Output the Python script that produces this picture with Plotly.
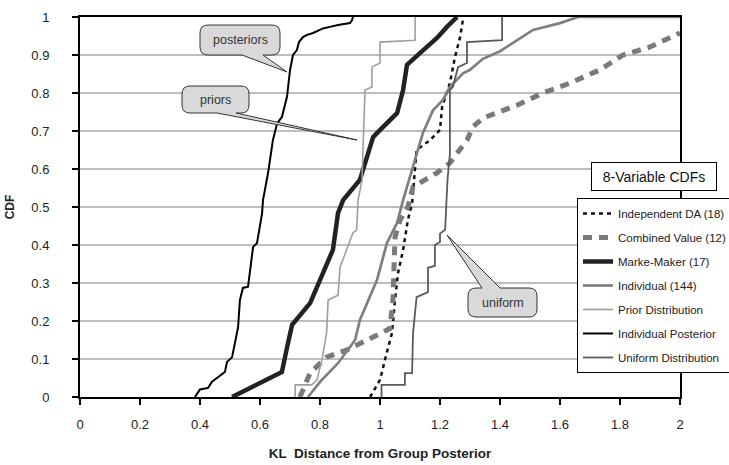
import plotly.graph_objects as go

# ---------------- data ----------------
post_x = [0.383, 0.40, 0.427, 0.44, 0.483, 0.49, 0.507, 0.517, 0.527, 0.533, 0.543, 0.56, 0.573, 0.577,
          0.59, 0.60, 0.607, 0.61, 0.627, 0.643, 0.657, 0.673, 0.69, 0.70, 0.71, 0.723, 0.73, 0.743,
          0.757, 0.777, 0.81, 0.833, 0.86, 0.90, 0.907, 0.91]
post_y = [0, 0.02, 0.024, 0.04, 0.066, 0.092, 0.105, 0.15, 0.184, 0.255, 0.287, 0.29, 0.36, 0.395,
          0.405, 0.457, 0.484, 0.518, 0.59, 0.676, 0.72, 0.737, 0.79, 0.86, 0.9, 0.913, 0.934, 0.947,
          0.953, 0.958, 0.97, 0.974, 0.979, 0.984, 0.992, 1.0]

prior_x = [0.717, 0.717, 0.772, 0.79, 0.806, 0.822, 0.827, 0.86, 0.867, 0.893, 0.91, 0.922, 0.927,
           0.94, 0.943, 0.95, 0.973, 0.973, 1.0, 1.0, 1.117, 1.117]
prior_y = [0, 0.032, 0.032, 0.045, 0.097, 0.168, 0.255, 0.268, 0.342, 0.395, 0.432, 0.44, 0.518,
           0.571, 0.632, 0.808, 0.816, 0.868, 0.879, 0.934, 0.939, 1.0]

mm_x = [0.507, 0.673, 0.69, 0.707, 0.767, 0.80, 0.833, 0.843, 0.86, 0.877, 0.933, 0.977, 0.993,
        1.057, 1.077, 1.09, 1.133, 1.19, 1.223, 1.257]
mm_y = [0, 0.066, 0.13, 0.19, 0.247, 0.308, 0.365, 0.387, 0.484, 0.518, 0.571, 0.684, 0.697,
        0.747, 0.808, 0.874, 0.905, 0.945, 0.974, 1.0]

ind_x = [0.76, 0.80, 0.86, 0.917, 0.933, 0.957, 0.99, 1.023, 1.057, 1.077, 1.123, 1.143, 1.177,
         1.21, 1.233, 1.277, 1.30, 1.343, 1.40, 1.457, 1.51, 1.60, 1.633, 1.66, 2.0]
ind_y = [0, 0.04, 0.089, 0.15, 0.203, 0.247, 0.308, 0.405, 0.458, 0.518, 0.642, 0.695, 0.755,
         0.782, 0.816, 0.852, 0.861, 0.89, 0.91, 0.939, 0.966, 0.984, 0.992, 1.0, 1.0]

ida_x = [0.967, 1.0, 1.022, 1.04, 1.05, 1.06, 1.077, 1.093, 1.107, 1.11, 1.122, 1.167, 1.2, 1.207,
         1.233, 1.25, 1.267, 1.278]
ida_y = [0, 0.045, 0.115, 0.168, 0.255, 0.326, 0.387, 0.466, 0.51, 0.537, 0.65, 0.676, 0.703,
         0.763, 0.826, 0.895, 0.947, 1.0]

cv_x = [0.733, 0.767, 0.822, 0.89, 0.957, 1.033, 1.043, 1.05, 1.067, 1.093, 1.11, 1.19, 1.233,
        1.29, 1.31, 1.343, 1.457, 1.543, 1.633, 1.733, 1.81, 1.9, 2.0]
cv_y = [0, 0.063, 0.105, 0.124, 0.15, 0.18, 0.255, 0.42, 0.466, 0.5, 0.553, 0.59, 0.616,
        0.676, 0.711, 0.734, 0.768, 0.8, 0.826, 0.861, 0.9, 0.921, 0.958]

uni_x = [1.005, 1.005, 1.083, 1.083, 1.107, 1.11, 1.122, 1.16, 1.16, 1.183, 1.183, 1.2, 1.2, 1.217,
         1.225, 1.233, 1.233, 1.243, 1.26, 1.29, 1.29, 1.407, 1.407]
uni_y = [0, 0.032, 0.032, 0.063, 0.063, 0.168, 0.263, 0.276, 0.34, 0.345, 0.40, 0.408, 0.43, 0.44,
         0.571, 0.64, 0.808, 0.816, 0.868, 0.879, 0.934, 0.939, 1.0]

x_ticks = [0, 0.2, 0.4, 0.6, 0.8, 1, 1.2, 1.4, 1.6, 1.8, 2]
x_tick_text = ["0", "0.2", "0.4", "0.6", "0.8", "1", "1.2", "1.4", "1.6", "1.8", "2"]
y_ticks = [0, 0.1, 0.2, 0.3, 0.4, 0.5, 0.6, 0.7, 0.8, 0.9, 1]
y_tick_text = ["0", "0.1", "0.2", "0.3", "0.4", "0.5", "0.6", "0.7", "0.8", "0.9", "1"]

FONT = "Liberation Sans, Arial, Helvetica, sans-serif"

series = [
    ("Independent DA (18)", ida_x, ida_y, dict(color="#111111", width=2.5, dash="4px,4px")),
    ("Combined Value (12)", cv_x, cv_y, dict(color="#7a7a7a", width=5, dash="9px,7px")),
    ("Marke-Maker (17)", mm_x, mm_y, dict(color="#222222", width=4.5)),
    ("Individual (144)", ind_x, ind_y, dict(color="#7f7f7f", width=2.7)),
    ("Prior Distribution", prior_x, prior_y, dict(color="#9e9e9e", width=1.6)),
    ("Individual Posterior", post_x, post_y, dict(color="#000000", width=2)),
    ("Uniform Distribution", uni_x, uni_y, dict(color="#5a5a5a", width=1.8)),
]

fig = go.Figure()
for i, (name, xs, ys, ln) in enumerate(series):
    fig.add_trace(go.Scatter(x=xs, y=ys, mode="lines", name=name, line=ln,
                             legendgroup="g%d" % i))

# ---------------- geometry helpers for callouts ----------------
L, R, T, B = 80, 680, 17, 397


def dx(px):
    return (px - L) / (R - L) * 2.0


def dy(py):
    return (B - py) / (B - T)


def bubble(x0, y0, x1, y1, r, tail, side):
    """rounded box in pixel coords with a tail (b1, b2, tipx, tipy) on 'bottom' or 'top'."""
    b1, b2, tx, ty = tail
    pts = []

    def P(cmd, *xy):
        s = cmd
        for j in range(0, len(xy), 2):
            s += " %.5f,%.5f" % (dx(xy[j]), dy(xy[j + 1]))
        pts.append(s)

    P("M", x0 + r, y0)
    if side == "top":
        P("L", b1, y0)
        P("L", tx, ty)
        P("L", b2, y0)
    P("L", x1 - r, y0)
    P("Q", x1, y0, x1, y0 + r)
    P("L", x1, y1 - r)
    P("Q", x1, y1, x1 - r, y1)
    if side == "bottom":
        P("L", b2, y1)
        P("L", tx, ty)
        P("L", b1, y1)
    P("L", x0 + r, y1)
    P("Q", x0, y1, x0, y1 - r)
    P("L", x0, y0 + r)
    P("Q", x0, y0, x0 + r, y0)
    return " ".join(pts) + " Z"


callouts = [
    ("posteriors", (200, 25, 280, 55), (242, 263, 287, 72), "bottom"),
    ("priors", (182, 86, 249, 113), (217, 236, 357, 140), "bottom"),
    ("uniform", (468, 288, 537, 317), (482, 500, 447, 235), "top"),
]

shapes = []
annotations = []
for text, (x0, y0, x1, y1), tail, side in callouts:
    shapes.append(dict(type="path", xref="x", yref="y",
                       path=bubble(x0, y0, x1, y1, 8, tail, side),
                       fillcolor="#d9d9d9", line=dict(color="#333333", width=1), layer="above"))
    annotations.append(dict(x=dx((x0 + x1) / 2), y=dy((y0 + y1) / 2), xref="x", yref="y",
                            text=text, showarrow=False,
                            font=dict(family=FONT, size=12.5, color="#333333")))

annotations.append(dict(x=(654 - L) / (R - L), y=(B - 176.5) / (B - T), xref="paper", yref="paper",
                        text="8-Variable CDFs", showarrow=False, xanchor="center", yanchor="middle",
                        width=118, height=21, borderpad=3, bordercolor="#000000", borderwidth=1,
                        bgcolor="#ffffff", font=dict(family=FONT, size=14, color="#111111")))

fig.update_layout(
    width=729, height=465,
    margin=dict(l=L, r=729 - R, t=T, b=465 - B, autoexpand=False),
    paper_bgcolor="#ffffff", plot_bgcolor="#ffffff",
    font=dict(family=FONT, size=13, color="#222222"),
    showlegend=True,
    legend=dict(x=(577 - L) / (R - L), y=(B - 198) / (B - T), xanchor="left", yanchor="top",
                bgcolor="#ffffff", bordercolor="#000000", borderwidth=1,
                font=dict(family=FONT, size=11.5, color="#222222"),
                tracegroupgap=5, itemwidth=30),
    shapes=shapes,
    annotations=annotations,
    xaxis=dict(range=[0, 2], tickvals=x_ticks, ticktext=x_tick_text, showgrid=False,
               zeroline=False, showline=True, linecolor="#000000", linewidth=2, mirror=True,
               ticks="outside", ticklen=6, tickwidth=1.5, tickcolor="#000000",
               ticklabelstandoff=8, tickfont=dict(size=13),
               title=dict(text="<b>KL  Distance from Group Posterior</b>",
                          font=dict(size=13.5, color="#222222"), standoff=18)),
    yaxis=dict(range=[0, 1], tickvals=y_ticks, ticktext=y_tick_text, showgrid=True,
               gridcolor="#bdbdbd", gridwidth=1.5, zeroline=False, showline=True,
               linecolor="#000000", linewidth=2, mirror=True,
               ticks="outside", ticklen=6, tickwidth=1.5, tickcolor="#000000",
               ticklabelstandoff=20, tickfont=dict(size=13),
               title=dict(text="<b>CDF</b>", font=dict(size=12, color="#222222"), standoff=14)),
)

fig.write_html("out.html")
